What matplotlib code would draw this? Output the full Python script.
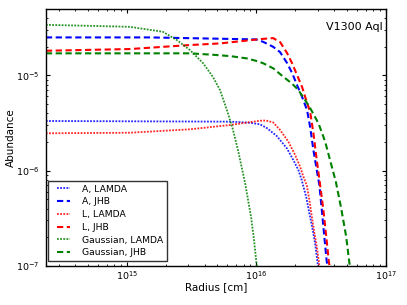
import numpy as np
import matplotlib
matplotlib.use("Agg")
import matplotlib.pyplot as plt
from matplotlib.ticker import LogLocator
from matplotlib.lines import Line2D
from matplotlib.legend_handler import HandlerLine2D

# log10 of radius [cm] and abundance
a_lamda_logr = [14.377, 15.798, 15.952, 16.029, 16.081, 16.158, 16.236, 16.286, 16.325, 16.351,
                16.361, 16.385, 16.410, 16.436, 16.454, 16.472, 16.477, 16.490]
a_lamda_loga = [-5.479, -5.486, -5.497, -5.514, -5.552, -5.636, -5.765, -5.888, -5.993, -6.098,
                -6.150, -6.273, -6.447, -6.622, -6.761, -6.954, -7.0, -7.1]

a_jhb_logr = [14.377, 15.180, 15.998, 16.053, 16.130, 16.184, 16.238, 16.277, 16.315, 16.354,
              16.392, 16.416, 16.441, 16.467, 16.487, 16.506, 16.524, 16.544, 16.551, 16.566]
a_jhb_loga = [-4.602, -4.602, -4.623, -4.648, -4.700, -4.756, -4.871, -4.976, -5.102, -5.227,
              -5.364, -5.542, -5.783, -5.993, -6.150, -6.412, -6.674, -6.954, -7.0, -7.1]

l_lamda_logr = [14.377, 15.025, 15.489, 15.798, 16.029, 16.076, 16.132, 16.184, 16.248, 16.300,
                16.338, 16.364, 16.390, 16.410, 16.429, 16.449, 16.467, 16.485, 16.487, 16.500]
l_lamda_loga = [-5.608, -5.602, -5.566, -5.521, -5.476, -5.474, -5.495, -5.573, -5.696, -5.835,
                -5.958, -6.063, -6.155, -6.307, -6.482, -6.656, -6.797, -6.971, -7.0, -7.1]

l_jhb_logr = [14.377, 15.025, 15.489, 15.720, 16.029, 16.130, 16.184, 16.238, 16.277, 16.315,
              16.354, 16.385, 16.416, 16.441, 16.467, 16.489, 16.518, 16.539, 16.560, 16.566, 16.580]
l_jhb_loga = [-4.742, -4.724, -4.682, -4.665, -4.620, -4.609, -4.651, -4.766, -4.874, -4.997,
              -5.123, -5.259, -5.382, -5.605, -5.888, -6.108, -6.412, -6.674, -6.954, -7.0, -7.1]

g_lamda_logr = [14.377, 14.794, 15.025, 15.280, 15.388, 15.489, 15.589, 15.667, 15.720, 15.774,
                15.821, 15.859, 15.914, 15.960, 15.983, 16.004, 16.012]
g_lamda_loga = [-4.470, -4.483, -4.491, -4.543, -4.630, -4.735, -4.871, -5.018, -5.154, -5.364,
                -5.573, -5.783, -6.129, -6.485, -6.726, -7.0, -7.1]

g_jhb_logr = [14.377, 15.489, 15.666, 15.798, 15.927, 16.014, 16.055, 16.132, 16.209, 16.274,
              16.325, 16.377, 16.416, 16.480, 16.532, 16.583, 16.614, 16.653, 16.694, 16.719,
              16.724, 16.735]
g_jhb_loga = [-4.769, -4.769, -4.784, -4.798, -4.822, -4.853, -4.874, -4.927, -5.015, -5.084,
              -5.154, -5.259, -5.343, -5.503, -5.696, -5.958, -6.115, -6.377, -6.692, -6.971,
              -7.0, -7.1]

labels = ["A, LAMDA", "A, JHB", "L, LAMDA", "L, JHB", "Gaussian, LAMDA", "Gaussian, JHB"]
title_text = "V1300 Aql"

plt.rcParams.update({
    "font.family": ["DejaVu Sans"],
    "font.size": 7.5,
    "xtick.labelsize": 6.8,
    "ytick.labelsize": 6.8,
    "xtick.direction": "in",
    "ytick.direction": "in",
    "xtick.top": True,
    "ytick.right": True,
    "xtick.major.size": 3.2,
    "ytick.major.size": 3.2,
    "xtick.minor.size": 1.6,
    "ytick.minor.size": 1.6,
    "xtick.major.pad": 2.5,
    "ytick.major.pad": 4.5,
    "axes.linewidth": 1.0,
})

fig = plt.figure(figsize=(4.07, 3.05), dpi=100)
ax = fig.add_axes([0.112, 0.128, 0.836, 0.842])

series = [
    (a_lamda_logr, a_lamda_loga, "b", ":"),
    (a_jhb_logr, a_jhb_loga, "b", "--"),
    (l_lamda_logr, l_lamda_loga, "r", ":"),
    (l_jhb_logr, l_jhb_loga, "r", "--"),
    (g_lamda_logr, g_lamda_loga, "g", ":"),
    (g_jhb_logr, g_jhb_loga, "g", "--"),
]
for (lr, la, c, ls), lab in zip(series, labels):
    r = 10 ** np.array(lr)
    a = 10 ** np.array(la)
    if ls == "--":
        ax.plot(r, a, color=c, lw=1.5, dashes=(3.0, 1.7), label=lab)
    else:
        ax.plot(r, a, color=c, lw=1.3, dashes=(1.0, 0.75), alpha=0.85, label=lab)

ax.set_xscale("log")
ax.set_yscale("log")
ax.set_xlim(2.37e14, 1e17)
ax.set_ylim(1e-7, 4.95e-5)
ax.xaxis.set_minor_locator(LogLocator(base=10, subs=np.arange(2, 10)))
ax.yaxis.set_minor_locator(LogLocator(base=10, subs=np.arange(2, 10)))
ax.set_xlabel("Radius [cm]")
ax.set_ylabel("Abundance")
ax.xaxis.set_label_coords(0.5, -0.062)
ax.yaxis.set_label_coords(-0.087, 0.5)
ax.text(0.99, 0.93, title_text, transform=ax.transAxes, ha="right", va="center", fontsize=8)

leg = ax.legend(loc="lower left", bbox_to_anchor=(0.008, 0.019), borderaxespad=0,
                fancybox=False, handlelength=1.9, labelspacing=0.4,
                borderpad=0.4, handletextpad=1.3, fontsize=6.7,
                handler_map={Line2D: HandlerLine2D(xpad=0.5)})
leg.get_frame().set_edgecolor("black")
leg.get_frame().set_linewidth(1.0)

fig.savefig("out.png", dpi=100, facecolor="white")
